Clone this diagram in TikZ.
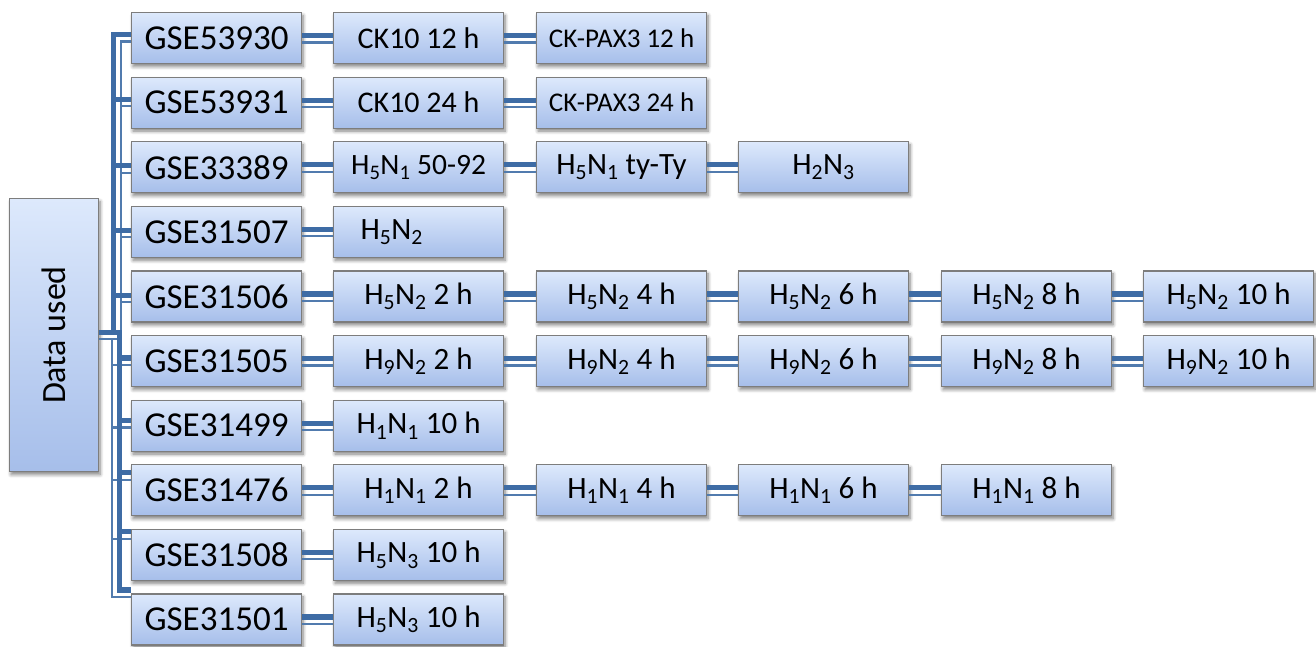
\documentclass[tikz,border=0pt]{standalone}
\usepackage{fontspec}
\setmainfont{Carlito}
\usetikzlibrary{calc,shadows.blur}

\definecolor{boxtop}{RGB}{221,233,252}
\definecolor{boxbot}{RGB}{166,190,234}
\definecolor{boxline}{RGB}{125,125,125}
\definecolor{link}{RGB}{62,108,165}

\tikzset{
  box/.style={draw=boxline, line width=1.1pt, top color=boxtop, bottom color=boxbot,
    minimum width=170pt, minimum height=51pt, inner sep=0pt, anchor=north west,
    blur shadow={shadow xshift=1.5pt, shadow yshift=-3pt, shadow blur radius=3.5pt,
      shadow blur steps=6, shadow opacity=50}},
  gsebox/.style={box, font=\fontsize{35}{40}\selectfont},
  subbox/.style={box, font=\fontsize{31}{36}\selectfont},
  ckbox/.style={box, font=\fontsize{30}{35}\selectfont},
  paxbox/.style={box, font=\fontsize{27}{32}\selectfont},
  thickline/.style={draw=link, line width=5.2pt},
  thinline/.style={draw=link!90, line width=2.1pt},
}

% thick/thin double connector between two boxes of one row
\newcommand\pairlink[2]{%
  \draw[thickline] ([yshift=2.4pt]#1.east) -- ([yshift=2.4pt]#2.west);
  \draw[thinline] ([yshift=-4.4pt]#1.east) -- ([yshift=-4.4pt]#2.west);}
% elbow connectors from the root box; #2 = height of the thick stroke above the box centre
\newcommand\upbranch[2]{%
  \draw[thickline] ([yshift=2.5pt]data.east) -| ($(trunk |- #1.west)+(-3pt,#2pt)$) -- ([yshift=#2pt]#1.west);
  \draw[thinline] ([yshift=-4.3pt]data.east) -| ($(trunk |- #1.west)+(4.3pt,#2pt-6.8pt)$) -- ([yshift=#2pt-6.8pt]#1.west);}
\newcommand\downbranch[2]{%
  \draw[thickline] ([yshift=2.5pt]data.east) -| ($(trunk |- #1.west)+(3pt,#2pt)$) -- ([yshift=#2pt]#1.west);
  \draw[thinline] ([yshift=-4.3pt]data.east) -| ($(trunk |- #1.west)+(-4.3pt,#2pt-6.8pt)$) -- ([yshift=#2pt-6.8pt]#1.west);}

\newcommand\HN[2]{H\textsubscript{#1}N\textsubscript{#2}}

\begin{document}
\begin{tikzpicture}[x=1pt, y=-1pt]
\useasboundingbox (0,0) rectangle (1316,646);

% root
\node[box, minimum width=89pt, minimum height=273pt, font=\fontsize{34}{40}\selectfont]
  (data) at (9,198) {\rotatebox{90}{Data used}};
\coordinate (trunk) at (116.5,334.5);

% first column: data sets
\node[gsebox] (g1)  at (131,12)    {GSE53930};
\node[gsebox] (g2)  at (131,76.6)  {GSE53931};
\node[gsebox] (g3)  at (131,141.2) {GSE33389};
\node[gsebox] (g4)  at (131,205.8) {GSE31507};
\node[gsebox] (g5)  at (131,270.4) {GSE31506};
\node[gsebox] (g6)  at (131,335)   {GSE31505};
\node[gsebox] (g7)  at (131,399.6) {GSE31499};
\node[gsebox] (g8)  at (131,464.2) {GSE31476};
\node[gsebox] (g9)  at (131,528.8) {GSE31508};
\node[gsebox] (g10) at (131,593.4) {GSE31501};

% samples
\node[ckbox]  (a1) at (333,12)   {CK10 12 h};
\node[paxbox] (b1) at (536,12)   {CK-PAX3 12 h};
\node[ckbox]  (a2) at (333,76.6) {CK10 24 h};
\node[paxbox] (b2) at (536,76.6) {CK-PAX3 24 h};

\node[subbox, font=\fontsize{29.5}{34}\selectfont] (a3) at (333,141.2) {\HN51 50-92};
\node[subbox] (b3) at (536,141.2) {\HN51 ty-Ty};
\node[subbox] (c3) at (738,141.2) {\HN23};

\node[subbox, text width=116pt, align=left, inner xsep=27pt] (a4) at (333,205.8) {\HN52};

\node[subbox] (a5) at (333,270.4)  {\HN52 2 h};
\node[subbox] (b5) at (536,270.4)  {\HN52 4 h};
\node[subbox] (c5) at (738,270.4)  {\HN52 6 h};
\node[subbox] (d5) at (941,270.4)  {\HN52 8 h};
\node[subbox] (e5) at (1143,270.4) {\HN52 10 h};

\node[subbox] (a6) at (333,335)  {\HN92 2 h};
\node[subbox] (b6) at (536,335)  {\HN92 4 h};
\node[subbox] (c6) at (738,335)  {\HN92 6 h};
\node[subbox] (d6) at (941,335)  {\HN92 8 h};
\node[subbox] (e6) at (1143,335) {\HN92 10 h};

\node[subbox] (a7) at (333,399.6) {\HN11 10 h};

\node[subbox] (a8) at (333,464.2) {\HN11 2 h};
\node[subbox] (b8) at (536,464.2) {\HN11 4 h};
\node[subbox] (c8) at (738,464.2) {\HN11 6 h};
\node[subbox] (d8) at (941,464.2) {\HN11 8 h};

\node[subbox] (a9)  at (333,528.8) {\HN53 10 h};
\node[subbox] (a10) at (333,593.4) {\HN53 10 h};

% root to data sets
\upbranch{g1}{3.4}
\upbranch{g2}{3.5}
\upbranch{g3}{1.5}
\upbranch{g4}{1.5}
\upbranch{g5}{1}
\downbranch{g6}{3}
\downbranch{g7}{5}
\downbranch{g8}{17.5}
\downbranch{g9}{23}
\downbranch{g10}{29.5}

% data sets to samples
\pairlink{g1}{a1} \pairlink{a1}{b1}
\pairlink{g2}{a2} \pairlink{a2}{b2}
\pairlink{g3}{a3} \pairlink{a3}{b3} \pairlink{b3}{c3}
\pairlink{g4}{a4}
\pairlink{g5}{a5} \pairlink{a5}{b5} \pairlink{b5}{c5} \pairlink{c5}{d5} \pairlink{d5}{e5}
\pairlink{g6}{a6} \pairlink{a6}{b6} \pairlink{b6}{c6} \pairlink{c6}{d6} \pairlink{d6}{e6}
\pairlink{g7}{a7}
\pairlink{g8}{a8} \pairlink{a8}{b8} \pairlink{b8}{c8} \pairlink{c8}{d8}
\pairlink{g9}{a9}
\pairlink{g10}{a10}
\end{tikzpicture}
\end{document}
